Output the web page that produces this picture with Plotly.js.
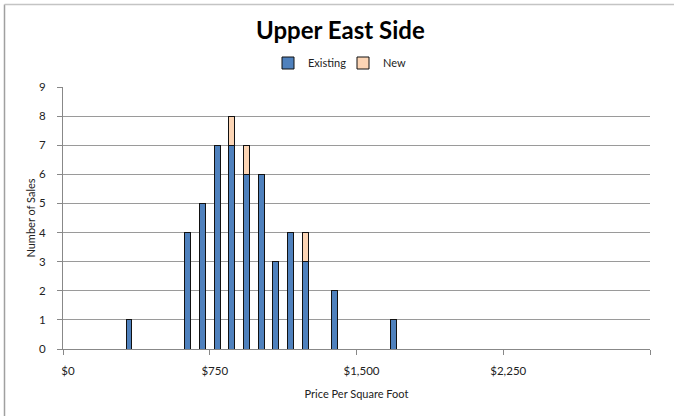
<!DOCTYPE html>
<html>
<head>
<meta charset="utf-8">
<script src="https://cdn.plot.ly/plotly-3.0.1.min.js"></script>
<style>
  html, body { margin: 0; padding: 0; background: #ffffff; }
  #chart { width: 674px; height: 416px; }
</style>
</head>
<body>
<div id="chart"></div>
<script>
// Price-per-square-foot bins ($75 wide, plotted at bin midpoints)
const binCenters = [337.5, 637.5, 712.5, 787.5, 862.5, 937.5, 1012.5, 1087.5, 1162.5, 1237.5, 1387.5, 1687.5];
// Number of sales per bin
const existingSales = [1, 4, 5, 7, 7, 6, 6, 3, 4, 3, 2, 1];
const newSales      = [0, 0, 0, 0, 1, 1, 0, 0, 0, 1, 0, 0];

const xTickVals = [0, 750, 1500, 2250, 3000];
const xTickText = ['$0', '$750', '$1,500', '$2,250', ''];
const yTickVals = [0, 1, 2, 3, 4, 5, 6, 7, 8, 9];

const W = 674, H = 416;
const M = { l: 63, r: 24, t: 87, b: 67 };
const plotW = W - M.l - M.r, plotH = H - M.t - M.b;
// convert page pixels to paper coordinates for the outer frame
const px = (x) => (x - M.l) / plotW;
const py = (y) => (H - M.b - y) / plotH;

const font = 'Lato, "Open Sans", "DejaVu Sans", sans-serif';

const traces = [
  {
    type: 'bar', name: 'Existing', x: binCenters, y: existingSales, width: 30,
    marker: { color: '#4f81bd', line: { color: '#111111', width: 1 } }
  },
  {
    type: 'bar', name: 'New', x: binCenters, y: newSales, width: 30,
    marker: { color: '#fcd5b5', line: { color: '#111111', width: 1 } }
  }
];

const layout = {
  width: W, height: H,
  margin: M,
  paper_bgcolor: '#ffffff', plot_bgcolor: '#ffffff',
  barmode: 'stack',
  font: { family: font, size: 11, color: '#222222' },
  title: {
    text: '<b>Upper East Side</b>',
    font: { family: font, size: 24, color: '#000000' },
    x: 0.505, xanchor: 'center', xref: 'container',
    y: 1 - 31 / H, yanchor: 'middle', yref: 'container'
  },
  showlegend: true,
  legend: {
    orientation: 'h', x: px(343), xanchor: 'center', y: py(63), yanchor: 'middle',
    font: { family: font, size: 11, color: '#222222' },
    entrywidth: 30, itemwidth: 30, traceorder: 'normal', bgcolor: 'rgba(0,0,0,0)'
  },
  xaxis: {
    range: [0, 3000], tickmode: 'array', tickvals: xTickVals, ticktext: xTickText,
    ticks: 'outside', ticklen: 5, tickcolor: '#888888', tickwidth: 1,
    showline: true, linecolor: '#888888', linewidth: 1,
    showgrid: false, zeroline: false,
    tickfont: { family: font, size: 11.5, color: '#222222' },
    ticklabelshift: 5, ticklabelstandoff: 6,
    title: { text: 'Price Per Square Foot', font: { family: font, size: 11, color: '#222222' }, standoff: 14 }
  },
  yaxis: {
    range: [0, 9], tickmode: 'array', tickvals: yTickVals,
    ticks: 'outside', ticklen: 5, tickcolor: '#888888', tickwidth: 1,
    showline: true, linecolor: '#888888', linewidth: 1,
    showgrid: true, gridcolor: '#9a9a9a', gridwidth: 1, zeroline: false,
    tickfont: { family: font, size: 11.5, color: '#222222' },
    ticklabelstandoff: 9,
    title: { text: 'Number of Sales', font: { family: font, size: 11, color: '#222222' }, standoff: 1 }
  },
  shapes: [
    { type: 'line', xref: 'paper', yref: 'paper', x0: px(4.5), x1: px(4.5), y0: py(4.5), y1: py(H + 5),
      line: { color: '#a0a0a0', width: 1.5 } },
    { type: 'line', xref: 'paper', yref: 'paper', x0: px(4.5), x1: px(W + 5), y0: py(4.5), y1: py(4.5),
      line: { color: '#c4c4c4', width: 1.5 } }
  ]
};

Plotly.newPlot('chart', traces, layout, { displayModeBar: false, staticPlot: true });
</script>
</body>
</html>
